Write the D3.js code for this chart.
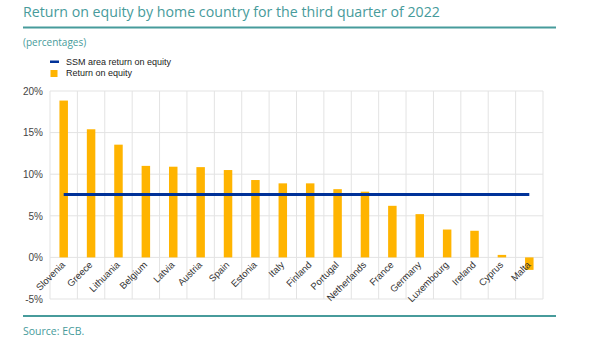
<!DOCTYPE html>
<html>
<head>
<meta charset="utf-8">
<script src="https://cdn.jsdelivr.net/npm/d3@7"></script>
<style>
  body { margin: 0; background: #fff; }
  svg { display: block; }
</style>
</head>
<body>
<div id="scene"></div>
<script>
// return on equity per home country, Q3 2022
var countries = ["Slovenia", "Greece", "Lithuania", "Belgium", "Latvia", "Austria", "Spain",
  "Estonia", "Italy", "Finland", "Portugal", "Netherlands", "France", "Germany",
  "Luxembourg", "Ireland", "Cyprus", "Malta"];
var roe = [18.85, 15.4, 13.55, 11.0, 10.9, 10.85, 10.5, 9.3, 8.9, 8.9, 8.2, 7.9, 6.2, 5.2,
  3.35, 3.2, 0.3, -1.5];
var ssmAverage = 7.55;
var yTicks = [-5, 0, 5, 10, 15, 20];

var ctx = {
  w: 600,
  h: 341,
  left: 50,
  right: 543,
  top: 91,
  bottom: 299,
  teal: "#479b9b",
  blue: "#003299",
  yellow: "#ffb400",
  grid: "#e3e3e3",
};

var svg = d3.select("#scene").append("svg")
  .attr("width", ctx.w)
  .attr("height", ctx.h);

// header
svg.append("text")
  .attr("x", 23)
  .attr("y", 17)
  .attr("fill", ctx.teal)
  .style("font-family", "'Open Sans', sans-serif")
  .style("font-size", "14.2px")
  .text("Return on equity by home country for the third quarter of 2022");

svg.append("line")
  .attr("x1", 23).attr("x2", 556)
  .attr("y1", 27.5).attr("y2", 27.5)
  .attr("stroke", ctx.teal)
  .attr("stroke-width", 2);

svg.append("text")
  .attr("x", 23)
  .attr("y", 46)
  .attr("fill", ctx.teal)
  .style("font-family", "'Open Sans', sans-serif")
  .style("font-size", "10px")
  .text("(percentages)");

// legend
var legend = svg.append("g")
  .style("font-family", "Arial, 'Liberation Sans', sans-serif")
  .style("font-size", "9px")
  .attr("fill", "#222");

legend.append("rect")
  .attr("x", 50).attr("y", 60.5)
  .attr("width", 9).attr("height", 2.5)
  .attr("fill", ctx.blue);
legend.append("text")
  .attr("x", 66).attr("y", 64.5)
  .text("SSM area return on equity");

legend.append("rect")
  .attr("x", 50.5).attr("y", 70)
  .attr("width", 7).attr("height", 7)
  .attr("fill", ctx.yellow);
legend.append("text")
  .attr("x", 66).attr("y", 76)
  .text("Return on equity");

// scales
var x = d3.scaleBand()
  .domain(countries)
  .range([ctx.left, ctx.right])
  .paddingInner(0.69)
  .paddingOuter(0.345);

var xGrid = d3.scaleBand()
  .domain(countries)
  .range([ctx.left, ctx.right]);

var y = d3.scaleLinear()
  .domain([-5, 20])
  .range([ctx.bottom, ctx.top]);

// grid
var grid = svg.append("g");
grid.selectAll(".hgrid")
  .data(yTicks)
  .enter()
  .append("line")
  .attr("x1", ctx.left).attr("x2", ctx.right)
  .attr("y1", function(d) { return y(d); })
  .attr("y2", function(d) { return y(d); })
  .attr("stroke", ctx.grid);

grid.selectAll(".vgrid")
  .data(countries)
  .enter()
  .append("line")
  .attr("x1", function(d) { return xGrid(d); })
  .attr("x2", function(d) { return xGrid(d); })
  .attr("y1", ctx.top).attr("y2", ctx.bottom)
  .attr("stroke", ctx.grid);

grid.append("line")
  .attr("x1", ctx.right).attr("x2", ctx.right)
  .attr("y1", ctx.top).attr("y2", ctx.bottom)
  .attr("stroke", ctx.grid);

// y axis labels
var yAxis = d3.axisLeft(y)
  .tickValues(yTicks)
  .tickSize(0)
  .tickPadding(7)
  .tickFormat(function(d) { return d + "%"; });

var yG = svg.append("g")
  .attr("transform", "translate(" + ctx.left + ",0)")
  .call(yAxis);
yG.select(".domain").remove();
yG.selectAll("text")
  .attr("fill", "#444")
  .style("font-family", "Arial, 'Liberation Sans', sans-serif")
  .style("font-size", "10px");

// bars
svg.append("g")
  .selectAll("rect")
  .data(countries)
  .enter()
  .append("rect")
  .attr("x", function(d) { return x(d); })
  .attr("width", x.bandwidth())
  .attr("y", function(d, i) { return y(Math.max(0, roe[i])); })
  .attr("height", function(d, i) { return Math.abs(y(roe[i]) - y(0)); })
  .attr("fill", ctx.yellow);

// SSM area average line
var firstC = xGrid(countries[0]) + xGrid.bandwidth() / 2;
var lastC = xGrid(countries[countries.length - 1]) + xGrid.bandwidth() / 2;
svg.append("line")
  .attr("x1", firstC).attr("x2", lastC)
  .attr("y1", y(ssmAverage)).attr("y2", y(ssmAverage))
  .attr("stroke", ctx.blue)
  .attr("stroke-width", 3);

// x labels, rotated
svg.append("g")
  .selectAll("text")
  .data(countries)
  .enter()
  .append("text")
  .attr("transform", function(d) {
    var cx = xGrid(d) + xGrid.bandwidth() / 2 + 2;
    return "translate(" + cx + "," + (y(0) + 8) + ") rotate(-45)";
  })
  .attr("text-anchor", "end")
  .attr("fill", "#333")
  .style("font-family", "Arial, 'Liberation Sans', sans-serif")
  .style("font-size", "9.5px")
  .text(function(d) { return d; });

// footer
svg.append("line")
  .attr("x1", 23).attr("x2", 556)
  .attr("y1", 316).attr("y2", 316)
  .attr("stroke", ctx.teal)
  .attr("stroke-width", 2);

svg.append("text")
  .attr("x", 23)
  .attr("y", 335)
  .attr("fill", ctx.teal)
  .style("font-family", "'Open Sans', sans-serif")
  .style("font-size", "10.5px")
  .text("Source: ECB.");
</script>
</body>
</html>
